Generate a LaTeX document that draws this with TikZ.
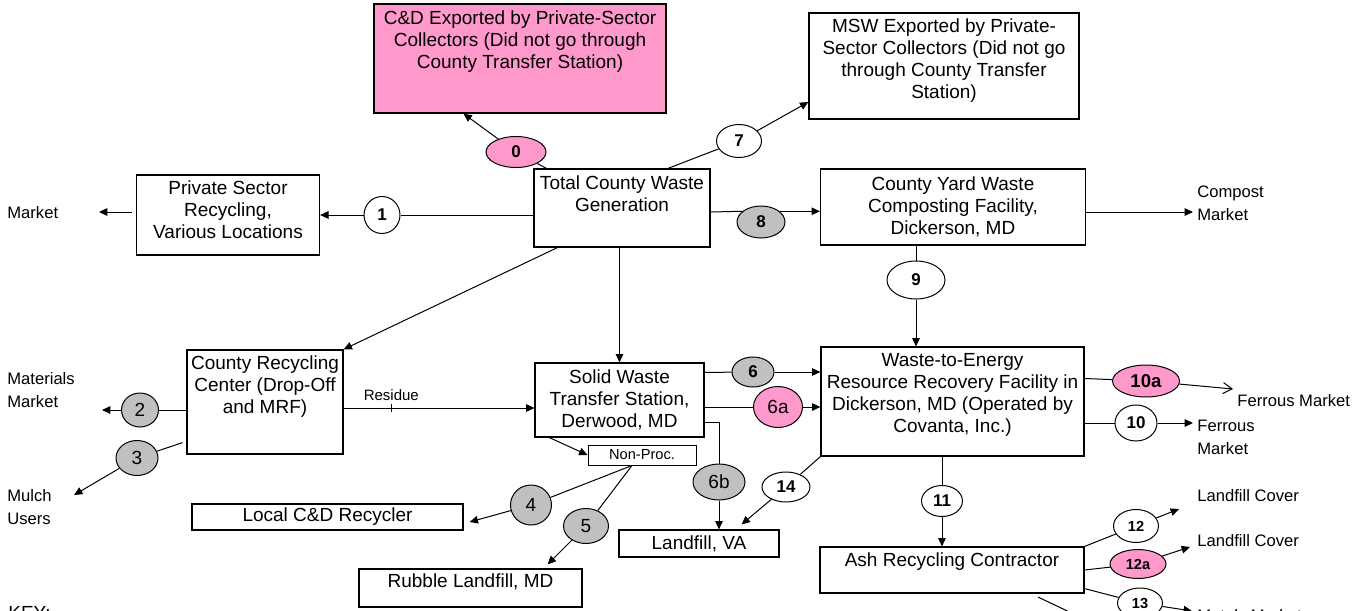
\documentclass[tikz,border=0pt]{standalone}
\usepackage{fontspec}
\setmainfont{Liberation Sans}
\usetikzlibrary{shapes.geometric,arrows.meta,calc}

\definecolor{pinkfill}{HTML}{FF99CC}
\definecolor{greyfill}{HTML}{C0C0C0}
\newcommand{\padbelow}[1]{\rule[-#1]{0pt}{#1}}

\tikzset{
  box/.style={draw, line width=0.6pt, align=center, inner sep=1pt, font=\fontsize{9.5}{11}\selectfont},
  num/.style={ellipse, draw, line width=0.5pt, fill=white, inner sep=0pt, font=\bfseries\fontsize{8.5}{10}\selectfont},
  reg/.style={font=\fontsize{9.5}{11}\selectfont},
  small/.style={font=\bfseries\fontsize{7.3}{9}\selectfont},
  lbl/.style={anchor=west, inner sep=0pt, align=left, font=\fontsize{8.3}{11.5}\selectfont},
  flow/.style={line width=0.5pt},
  arr/.style={flow, -{Triangle[length=4.2pt,width=3.8pt]}},
}

\begin{document}
\begin{tikzpicture}[x=0.5pt, y=-0.5pt]
\clip (0,0) rectangle (1356,611);

% boxes
\node[box, fill=pinkfill, minimum width=146pt, minimum height=54.5pt] (cd) at (520,58.5)
  {C\&D Exported by Private-Sector\\Collectors (Did not go through\\County Transfer Station)\padbelow{19pt}};
\node[box, minimum width=135pt, minimum height=53pt] (msw) at (944,66)
  {MSW Exported by Private-\\Sector Collectors (Did not go\\through County Transfer\\Station)\padbelow{7.5pt}};
\node[box, minimum width=88pt, minimum height=39pt] (tot) at (622,208)
  {Total County Waste\\Generation\padbelow{14pt}};
\node[box, minimum width=91.5pt, minimum height=40pt] (pr) at (228,215)
  {Private Sector\\Recycling,\\Various Locations\padbelow{5pt}};
\node[box, minimum width=132.5pt, minimum height=38pt] (yard) at (953,207)
  {County Yard Waste\\Composting Facility,\\Dickerson, MD};
\node[box, inner xsep=0pt, minimum width=78pt, minimum height=52pt] (crc) at (265,402)
  {County Recycling\\Center (Drop-Off\\and MRF)\padbelow{17pt}};
\node[box, minimum width=84.5pt, minimum height=37pt] (sw) at (619.5,400)
  {Solid Waste\\Transfer Station,\\Derwood, MD};
\node[box, line width=0.5pt, minimum width=54pt, minimum height=10pt, inner sep=0pt,
  font=\fontsize{7.3}{8}\selectfont] (np) at (642,455) {Non-Proc.};
\node[box, minimum width=131.5pt, minimum height=54.5pt] (wte) at (952.5,401.5)
  {Waste-to-Energy\\Resource Recovery Facility in\\Dickerson, MD (Operated by\\Covanta, Inc.)\padbelow{8.5pt}};
\node[box, minimum width=132pt, minimum height=23pt] (ash) at (952,570)
  {Ash Recycling Contractor\padbelow{10pt}};
\node[box, minimum width=135.5pt, minimum height=13pt] (lcd) at (327.5,517) {Local C\&D Recycler};
\node[box, minimum width=111.5pt, minimum height=19pt] (rub) at (470.5,588)
  {Rubble Landfill, MD\padbelow{7pt}};
\node[box, minimum width=80pt, minimum height=13.5pt] (lva) at (699,543.5) {Landfill, VA};

% outside labels
\node[lbl] (mkt) at (7,213) {Market};
\node[lbl] (mm) at (7,390) {Materials\\Market};
\node[lbl] (mu) at (7,507) {Mulch\\Users};
\node[lbl] (cmp) at (1197,203) {Compost\\Market};
\node[lbl] (fm) at (1237,401) {Ferrous Market};
\node[lbl] (fer) at (1197,437) {Ferrous\\Market};
\node[lbl] (lc1) at (1197,496) {Landfill Cover};
\node[lbl] (lc2) at (1197,541) {Landfill Cover};
\node[lbl] (mtl) at (1197,616) {Metals Market};
\node[lbl, font=\fontsize{9.5}{11}\selectfont] (key) at (8,613) {KEY:};

% numbered flows
\node[num, fill=pinkfill, minimum width=30pt, minimum height=15.5pt] (c0) at (516,152) {0};
\node[num, minimum width=18pt, minimum height=18.5pt] (c1) at (382,215) {1};
\node[num, fill=greyfill, reg, minimum width=18.5pt, minimum height=17pt] (c2) at (140,410) {2};
\node[num, fill=greyfill, reg, minimum width=21pt, minimum height=17.5pt] (c3) at (137,458) {3};
\node[num, fill=greyfill, reg, minimum width=20.5pt, minimum height=20pt] (c4) at (531,505) {4};
\node[num, fill=greyfill, reg, minimum width=22.5pt, minimum height=17.5pt] (c5) at (586,526) {5};
\node[num, fill=greyfill, minimum width=21pt, minimum height=15pt] (c6) at (753,372) {6};
\node[num, fill=pinkfill, reg, minimum width=24.5pt, minimum height=20.5pt] (c6a) at (778,407) {6a};
\node[num, fill=greyfill, reg, minimum width=26pt, minimum height=18pt] (c6b) at (719,482) {6b};
\node[num, minimum width=22.5pt, minimum height=16.5pt] (c7) at (739,141) {7};
\node[num, fill=greyfill, minimum width=24pt, minimum height=16pt] (c8) at (761,222) {8};
\node[num, minimum width=29pt, minimum height=19pt] (c9) at (916,280) {9};
\node[num, fill=pinkfill, font=\bfseries\fontsize{9.3}{11}\selectfont,
  minimum width=33.5pt, minimum height=16pt] (c10a) at (1146,381) {10a};
\node[num, minimum width=21pt, minimum height=18pt] (c10) at (1136,423) {10};
\node[num, minimum width=20.5pt, minimum height=15.5pt] (c11) at (942,501) {11};
\node[num, small, minimum width=22.5pt, minimum height=16.5pt] (c12) at (1136,526) {12};
\node[num, small, fill=pinkfill, minimum width=28pt, minimum height=14.5pt] (c12a) at (1138,564) {12a};
\node[num, small, minimum width=22.5pt, minimum height=15pt] (c13) at (1140,603) {13};
\node[num, minimum width=24pt, minimum height=15pt] (c14) at (786,487) {14};

% free arrow ends
\coordinate (mkttip) at (99,212);
\coordinate (mmtip) at (102,410);
\coordinate (mutip) at (74,495);
\coordinate (fmtip) at (1233,389);
\coordinate (lc1tip) at (1179,509);
\coordinate (lc2tip) at (1190,547);
\coordinate (mttip) at (1192,611);
\coordinate (strayA) at (1038,597);
\coordinate (strayB) at (1082,618);

% connectors
\draw[flow] ($(tot.north west)+(13,0)$) -- (c0);
\draw[arr] (c0) -- ($(cd.south west)+(90,0)$);
\draw[flow] (tot.west |- c1) -- (c1);
\draw[arr] (c1) -- (pr.east |- c1);
\draw[arr] ($(pr.west)+(-4,-3)$) -- (mkttip);
\draw[flow] ($(tot.north)+(46,0)$) -- (c7);
\draw[arr] (c7) -- ($(msw.west)+(0,36)$);
\draw[flow] ($(tot.east)+(0,4)$) -- (c8.150);
\draw[arr] (c8.30) -- (yard.west |- c8.30);
\draw[arr] ($(yard.east)+(0,5)$) -- ($(cmp.west)+(-4,9)$);
\draw[flow] (yard.south -| c9) -- (c9);
\draw[arr] (c9) -- (wte.north -| c9);
\draw[arr] ($(tot.south west)+(24,0)$) -- (crc.north east);
\draw[arr] (sw.north |- tot.south) -- (sw.north);

\draw[flow] (crc.west |- c2) -- (c2);
\draw[arr] (c2) -- (mmtip);
\draw[flow] ($(crc.south west)+(-4,-12)$) -- (c3);
\draw[arr] (c3) -- (mutip);
\draw[arr] ($(crc.east)+(0,6)$) -- coordinate[pos=0.25] (res) ($(sw.west)+(0,8)$);
\draw[flow] ($(res)+(0,-4)$) -- ($(res)+(0,4)$);
\node[above=3.5pt, inner sep=0pt, font=\fontsize{7.5}{9}\selectfont] (restxt) at (res) {Residue};

\draw[flow] ($(sw.north east)+(0,10)$) -- (c6);
\draw[arr] (c6) -- (wte.west |- c6);
\draw[flow] (sw.east |- c6a) -- (c6a);
\draw[arr] (c6a) -- (wte.west |- c6a);
\draw[flow] ($(sw.south east)+(0,-15)$) -| (c6b);
\draw[arr] (c6b) -- (lva.north -| c6b);
\draw[arr] ($(sw.south west)+(15,0)$) -- (np.west);
\draw[flow] ($(np.south)+(-10,0)$) -- (c4);
\draw[arr] (c4) -- ($(lcd.east)+(6,5)$);
\draw[flow] ($(np.south)+(-10,0)$) -- (c5);
\draw[arr] (c5) -- ($(rub.north east)+(-35,-4)$);
\draw[flow] (wte.south west) -- (c14);
\draw[arr] (c14) -- ($(lva.north east)+(-38,-5)$);

\draw[flow] ($(wte.east)+(0,-23)$) -- (c10a);
\draw[flow, -{Straight Barb[length=4.5pt,width=5.5pt]}] (c10a) -- (fmtip);
\draw[flow] (wte.east |- c10) -- (c10);
\draw[arr] (c10) -- ($(fer.west |- c10)+(-4,0)$);
\draw[flow] (wte.south -| c11) -- (c11);
\draw[arr] (c11) -- (ash.north -| c11);
\draw[flow] (ash.north east) -- (c12);
\draw[arr] (c12) -- (lc1tip);
\draw[flow] (ash.east) -- (c12a);
\draw[arr] (c12a) -- (lc2tip);
\draw[flow] ($(ash.south east)+(0,-5)$) -- (c13);
\draw[arr] (c13) -- (mttip);
\draw[flow] (strayA) -- (strayB);
\end{tikzpicture}
\end{document}
